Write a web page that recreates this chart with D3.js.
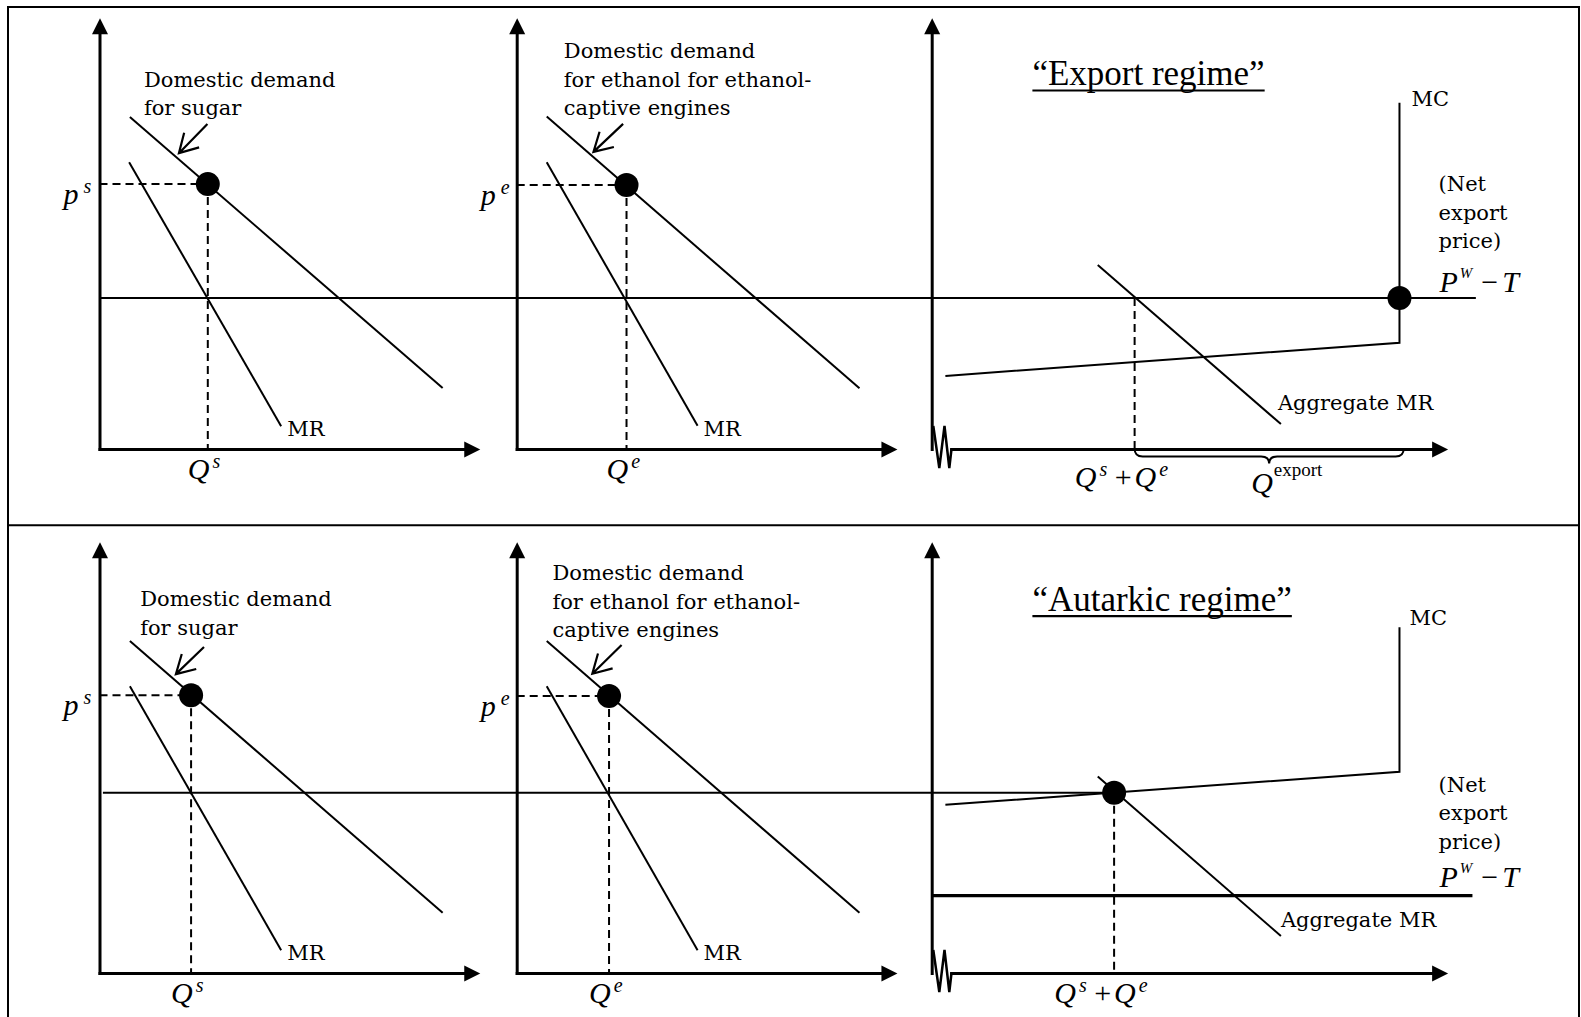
<!DOCTYPE html>
<html>
<head>
<meta charset="utf-8">
<script src="https://cdn.jsdelivr.net/npm/d3@7"></script>
<style>
  body { margin: 0; background: #fff; }
  svg { display: block; }
  .lbl { font-family: "DejaVu Serif", serif; font-size: 21px; fill: #000; }
  .math { font-family: "Liberation Serif", serif; font-style: italic; font-size: 30px; fill: #000; }
  .title { font-family: "Liberation Serif", serif; font-size: 35px; fill: #000; }
  .axis path.domain { stroke: #000; stroke-width: 3; stroke-linecap: square; }
  .curve { fill: none; stroke: #000; stroke-width: 2; }
  .curve.bold { stroke-width: 3.2; }
  .guide { fill: none; stroke: #000; stroke-width: 2; stroke-dasharray: 8 5; }
</style>
</head>
<body>
<svg id="chart" width="1581" height="1017"></svg>
<script>
// values: [quantity, price], each panel runs 0-100 on both axes
const titles = ['\u201CExport regime\u201D', '\u201CAutarkic regime\u201D'];
const sugarText = ['Domestic demand', 'for sugar'];
const ethText = ['Domestic demand', 'for ethanol for ethanol-', 'captive engines'];
const noteText = ['(Net', 'export', 'price)'];

// export regime (top row)
const sugarDemandExp = [[8.0, 77.2], [90.3, 14.2]];
const sugarMRExp = [[7.8, 66.7], [47.8, 5.3]];
const sugarOptExp = [28.5, 61.6];
const ethDemandExp = [[7.9, 77.3], [90.2, 14.1]];
const ethMRExp = [[7.9, 66.7], [47.6, 5.4]];
const ethOptExp = [28.9, 61.4];
const mcExp = [[3.6, 17.0], [123.1, 24.7], [123.1, 80.5]];
const aggMRExp = [[43.7, 42.8], [91.9, 5.8]];
const netPriceExp = 35.1;
const domesticQExp = 53.4;
const exportQEnd = 124.2;

// autarkic regime (bottom row)
const sugarDemandAut = [[8.0, 77.2], [90.3, 14.0]];
const sugarMRAut = [[8.0, 66.7], [47.8, 5.3]];
const sugarOptAut = [24.1, 64.6];
const ethDemandAut = [[7.9, 77.2], [90.2, 14.0]];
const ethMRAut = [[7.9, 66.7], [47.6, 5.3]];
const ethOptAut = [24.3, 64.4];
const mcAut = [[3.6, 39.1], [123.1, 46.8], [123.1, 80.4]];
const aggMRAut = [[43.7, 45.7], [91.9, 8.6]];
const autarkyOpt = [48.0, 41.9];
const netPriceAut = 18.0;

// page layout
const colX = [99.5, 516.7, 931.7];
const rowY = [449, 973];
const qSpan = 380, pSpan = 430;

const layout = [
    { sugarText: [11.7, 84.2], ethText: [12.4, 90.9],
      sugarArrow: [[28.4, 75.6], [20.9, 68.8]], ethArrow: [[28.0, 75.6], [20.2, 69.1]],
      titleBase: 85, aggOffset: [-3, -14], mcOffset: [12, 3], noteBase: 191, pwtBase: 292.3 },
    { sugarText: [10.7, 85.3], ethText: [9.4, 91.3],
      sugarArrow: [[27.5, 75.8], [20.1, 69.5]], ethArrow: [[27.6, 76.3], [19.9, 69.6]],
      titleBase: 610.7, aggOffset: [0, -9], mcOffset: [10, -2], noteBase: 791.7, pwtBase: 886.7 }
];

const rows = [
    { sugar: {demand: sugarDemandExp, mr: sugarMRExp, opt: sugarOptExp, p: 'p', tag: 's'},
      eth: {demand: ethDemandExp, mr: ethMRExp, opt: ethOptExp, p: 'p', tag: 'e'},
      mc: mcExp, agg: aggMRExp },
    { sugar: {demand: sugarDemandAut, mr: sugarMRAut, opt: sugarOptAut, p: 'p', tag: 's'},
      eth: {demand: ethDemandAut, mr: ethMRAut, opt: ethOptAut, p: 'p', tag: 'e'},
      mc: mcAut, agg: aggMRAut }
];

const svg = d3.select('#chart');

// outer frame and the divider between the two regimes
svg.append('rect')
    .attr('x', 8).attr('y', 7)
    .attr('width', 1571).attr('height', 1040)
    .attr('fill', 'none').attr('stroke', '#000').attr('stroke-width', 2);
svg.append('line')
    .attr('x1', 8).attr('x2', 1579)
    .attr('y1', 525.3).attr('y2', 525.3)
    .attr('stroke', '#000').attr('stroke-width', 2);

const lineGen = (x, y) => d3.line().x(d => x(d[0])).y(d => y(d[1]));

function mathLabel(g, x, yBase, parts)
{
    const t = g.append('text').attr('class', 'math').attr('x', x).attr('y', yBase);
    let shift = 0;
    parts.forEach(p => {
        const target = p.sup ? -p.sup : 0;
        const s = t.append('tspan').text(p.t).attr('dy', target - shift);
        shift = target;
        if (p.size) s.style('font-size', p.size + 'px');
        if (p.up) s.style('font-style', 'normal');
        if (p.dx) s.attr('dx', p.dx);
    });
    return t;
}

function yAxis(g, x, y, pTop)
{
    const s = d3.scaleLinear().domain([0, pTop]).range([y(0), y(pTop) + 14]);
    g.append('g')
        .attr('class', 'axis')
        .attr('transform', `translate(${x(0)},0)`)
        .call(d3.axisLeft(s).tickValues([]).tickSizeOuter(0));
    const cx = x(0) + 0.5, tip = y(pTop);
    g.append('path')
        .attr('d', `M${cx},${tip}L${cx - 8},${tip + 16}L${cx + 8},${tip + 16}Z`)
        .attr('fill', '#000');
}

function xAxis(g, x, y, q0, qEnd)
{
    const s = d3.scaleLinear().domain([q0, qEnd]).range([x(q0), x(qEnd) - 14]);
    g.append('g')
        .attr('class', 'axis')
        .attr('transform', `translate(0,${y(0)})`)
        .call(d3.axisBottom(s).tickValues([]).tickSizeOuter(0));
    const cy = y(0) + 0.5, tip = x(qEnd);
    g.append('path')
        .attr('d', `M${tip},${cy}L${tip - 16},${cy - 8}L${tip - 16},${cy + 8}Z`)
        .attr('fill', '#000');
}

function callout(g, x, y, pts)
{
    const x0 = x(pts[0][0]), y0 = y(pts[0][1]);
    const x1 = x(pts[1][0]), y1 = y(pts[1][1]);
    const ang = Math.atan2(y0 - y1, x0 - x1);
    const len = 21, spread = 0.52;
    const path = d3.path();
    path.moveTo(x0, y0); path.lineTo(x1, y1);
    path.moveTo(x1 + len * Math.cos(ang - spread), y1 + len * Math.sin(ang - spread));
    path.lineTo(x1, y1);
    path.lineTo(x1 + len * Math.cos(ang + spread), y1 + len * Math.sin(ang + spread));
    g.append('path').attr('d', path.toString())
        .attr('fill', 'none').attr('stroke', '#000').attr('stroke-width', 2.2);
}

function drawMarket(g, x, y, m, textLines, textAt, arrow)
{
    yAxis(g, x, y, 100.2);
    xAxis(g, x, y, 0, 100.2);

    const line = lineGen(x, y);
    g.append('path').datum(m.demand).attr('class', 'curve').attr('d', line);
    g.append('path').datum(m.mr).attr('class', 'curve').attr('d', line);

    // dashed guides to the optimum
    g.append('path').datum([[0, m.opt[1]], m.opt]).attr('class', 'guide').attr('d', line);
    g.append('path').datum([m.opt, [m.opt[0], 0]]).attr('class', 'guide').attr('d', line);

    g.append('circle')
        .attr('cx', x(m.opt[0])).attr('cy', y(m.opt[1]))
        .attr('r', 12).attr('fill', '#000');

    const t = g.append('text').attr('class', 'lbl')
        .attr('x', x(textAt[0])).attr('y', y(textAt[1]));
    textLines.forEach((s, i) => {
        t.append('tspan').attr('x', x(textAt[0])).attr('dy', i ? 28.5 : 0).text(s);
    });
    callout(g, x, y, arrow);

    const mrEnd = m.mr[m.mr.length - 1];
    g.append('text').attr('class', 'lbl')
        .attr('x', x(mrEnd[0]) + 6).attr('y', y(mrEnd[1]) + 10)
        .text('MR');

    mathLabel(g, x(0) - 36, y(m.opt[1]) + 20,
        [{t: m.p}, {t: m.tag, sup: 11, size: 20, dx: 5}]);
    mathLabel(g, x(m.opt[0]) - 20, y(0) + 30,
        [{t: 'Q'}, {t: m.tag, sup: 11, size: 20, dx: 3}]);
}

rows.forEach((row, r) => {
    const lay = layout[r];
    const y = d3.scaleLinear().domain([0, 100]).range([rowY[r], rowY[r] - pSpan]);
    const xs = colX.map(cx => d3.scaleLinear().domain([0, 100]).range([cx, cx + qSpan]));
    const g = svg.append('g').attr('class', 'row-' + r);

    drawMarket(g, xs[0], y, row.sugar, sugarText, lay.sugarText, lay.sugarArrow);
    drawMarket(g, xs[1], y, row.eth, ethText, lay.ethText, lay.ethArrow);

    // aggregate panel
    const xr = xs[2];
    const line = lineGen(xr, y);
    yAxis(g, xr, y, 100.2);
    xAxis(g, xr, y, 5.1, 135.9);

    // axis break mark
    const ox = xr(0), oy = y(0);
    const zig = [[1.6, -23], [7.6, 19], [12.8, -23], [17.6, 19], [19.8, 0]];
    g.append('path')
        .attr('d', d3.line()(zig.map(d => [ox + d[0], oy + d[1]])))
        .attr('fill', 'none').attr('stroke', '#000').attr('stroke-width', 2.5);

    // title
    const title = g.append('text').attr('class', 'title')
        .attr('x', xr(26.5)).attr('y', lay.titleBase).text(titles[r]);
    const tw = title.node().getComputedTextLength();
    g.append('line')
        .attr('x1', xr(26.5)).attr('x2', xr(26.5) + tw)
        .attr('y1', lay.titleBase + 5.5).attr('y2', lay.titleBase + 5.5)
        .attr('stroke', '#000').attr('stroke-width', 2.2);

    g.append('path').datum(row.mc).attr('class', 'curve').attr('d', line);
    g.append('path').datum(row.agg).attr('class', 'curve').attr('d', line);

    const mcTop = row.mc[row.mc.length - 1];
    g.append('text').attr('class', 'lbl')
        .attr('x', xr(mcTop[0]) + lay.mcOffset[0]).attr('y', y(mcTop[1]) + lay.mcOffset[1])
        .text('MC');
    const aggEnd = row.agg[row.agg.length - 1];
    g.append('text').attr('class', 'lbl')
        .attr('x', xr(aggEnd[0]) + lay.aggOffset[0]).attr('y', y(aggEnd[1]) + lay.aggOffset[1])
        .text('Aggregate MR');

    // net export price note and label
    const note = g.append('text').attr('class', 'lbl')
        .attr('x', xr(133.4)).attr('y', lay.noteBase);
    noteText.forEach((s, i) => {
        note.append('tspan').attr('x', xr(133.4)).attr('dy', i ? 28.6 : 0).text(s);
    });
    mathLabel(g, xr(133.6), lay.pwtBase, [
        {t: 'P'}, {t: 'W', sup: 14, size: 15, dx: 2},
        {t: '\u2212', up: true, dx: 9}, {t: 'T', dx: 4}
    ]);

    if (r === 0) {
        // world price line across all three panels
        g.append('path')
            .datum([[xs[0](0), y(netPriceExp)], [xr(143.2), y(netPriceExp)]])
            .attr('class', 'curve').attr('d', d3.line());
        g.append('path').datum([[domesticQExp, netPriceExp], [domesticQExp, 0]])
            .attr('class', 'guide').attr('d', line);
        g.append('circle')
            .attr('cx', xr(row.mc[1][0])).attr('cy', y(netPriceExp))
            .attr('r', 12).attr('fill', '#000');

        // brace under exported quantity
        const x1 = xr(domesticQExp), x2 = xr(exportQEnd), mid = (x1 + x2) / 2, y0 = y(0) - 0.5;
        const b = d3.path();
        b.moveTo(x1, y0);
        b.quadraticCurveTo(x1, y0 + 8, x1 + 8, y0 + 8);
        b.lineTo(mid - 8, y0 + 8);
        b.quadraticCurveTo(mid, y0 + 8, mid, y0 + 15);
        b.quadraticCurveTo(mid, y0 + 8, mid + 8, y0 + 8);
        b.lineTo(x2 - 8, y0 + 8);
        b.quadraticCurveTo(x2, y0 + 8, x2, y0);
        g.append('path').attr('d', b.toString())
            .attr('fill', 'none').attr('stroke', '#000').attr('stroke-width', 2);

        mathLabel(g, x1 - 3, y(0) + 38,
            [{t: 'Q'}, {t: 's', sup: 11, size: 20, dx: 3}, {t: ' +', up: true}])
            .attr('text-anchor', 'end');
        mathLabel(g, x1, y(0) + 38, [{t: 'Q'}, {t: 'e', sup: 11, size: 20, dx: 3}]);
        mathLabel(g, mid - 18, y(0) + 44,
            [{t: 'Q'}, {t: 'export', sup: 17, size: 19, up: true, dx: 1}]);
    } else {
        // marginal value line meeting MC at the autarky optimum
        g.append('path')
            .datum([[xs[0](0.9), y(autarkyOpt[1])], [xr(autarkyOpt[0]), y(autarkyOpt[1])]])
            .attr('class', 'curve').attr('d', d3.line());
        g.append('path').datum([[0, netPriceAut], [142.3, netPriceAut]])
            .attr('class', 'curve bold').attr('d', line);
        g.append('path').datum([autarkyOpt, [autarkyOpt[0], 0]])
            .attr('class', 'guide').attr('d', line);
        g.append('circle')
            .attr('cx', xr(autarkyOpt[0])).attr('cy', y(autarkyOpt[1]))
            .attr('r', 12).attr('fill', '#000');

        const xq = xr(autarkyOpt[0]);
        mathLabel(g, xq - 3, y(0) + 30,
            [{t: 'Q'}, {t: 's', sup: 11, size: 20, dx: 3}, {t: ' +', up: true}])
            .attr('text-anchor', 'end');
        mathLabel(g, xq, y(0) + 30, [{t: 'Q'}, {t: 'e', sup: 11, size: 20, dx: 3}]);
    }
});
</script>
</body>
</html>
